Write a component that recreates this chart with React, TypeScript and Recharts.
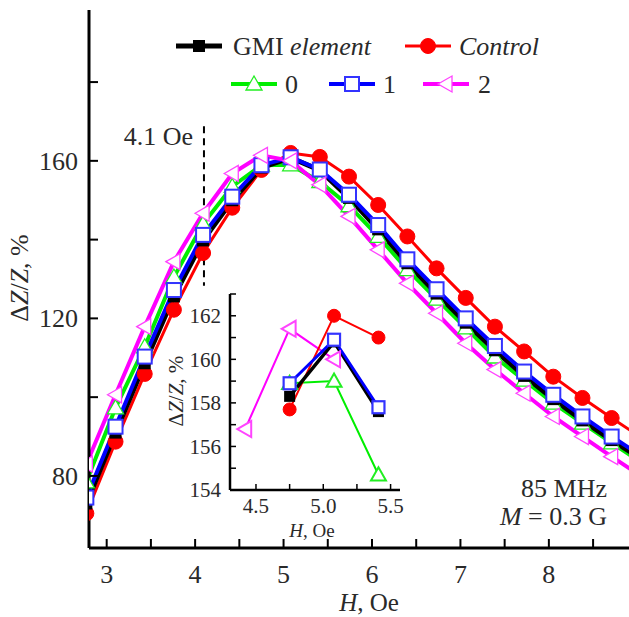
import React from 'react';
import { LineChart, Line, XAxis, YAxis, ReferenceLine, CartesianGrid } from 'recharts';

const FONT = '"Liberation Serif", "Times New Roman", serif';
const INK = '#2a2a2a';

// ---- main panel data: H (Oe) vs ΔZ/Z (%) ----
const fieldH = [2.77, 3.1, 3.43, 3.76, 4.09, 4.42, 4.75, 5.08, 5.41, 5.74, 6.07, 6.4, 6.73, 7.06, 7.39, 7.72, 8.05, 8.38, 8.71, 9.04];
const gmiElement = [73.0, 91.0, 108.6, 125.6, 139.8, 150.0, 158.3, 160.8, 157.6, 150.6, 142.6, 134.0, 126.3, 118.9, 111.9, 105.4, 99.5, 94.1, 89.1, 84.4];
const controlSample = [70.5, 88.7, 105.9, 122.2, 136.6, 148.1, 157.7, 162.0, 161.0, 156.0, 148.8, 140.8, 132.7, 125.2, 117.9, 111.6, 105.2, 99.8, 94.7, 89.8];
const layer0 = [78.5, 97.3, 112.8, 130.5, 144.0, 153.5, 158.9, 159.0, 154.7, 148.6, 140.8, 132.4, 124.9, 117.6, 110.2, 104.3, 98.5, 93.4, 88.4, 83.5];
const layer1 = [74.5, 92.5, 110.3, 127.2, 141.2, 150.9, 158.9, 160.9, 157.8, 151.4, 143.7, 135.0, 127.4, 120.0, 113.0, 106.5, 100.6, 95.1, 90.0, 85.2];
const layer2 = [83.0, 100.6, 117.9, 134.4, 146.7, 156.8, 161.4, 160.0, 153.9, 145.9, 137.4, 128.9, 121.3, 113.7, 107.0, 101.0, 95.1, 90.0, 84.9, 80.0];

// ---- inset data (zoom on the maximum) ----
const insetH = [4.42, 4.75, 5.08, 5.41];
const insetGmi = [null, 158.3, 160.8, 157.6];
const insetControl = [null, 157.7, 162.0, 161.0];
const insetL0 = [null, 158.9, 159.0, 154.7];
const insetL1 = [null, 158.9, 160.9, 157.8];
const insetL2 = [156.8, 161.4, 160.0, null];

// ---- ticks ----
const xTicks = [3, 3.5, 4, 4.5, 5, 5.5, 6, 6.5, 7, 7.5, 8, 8.5];
const xMajor = [3, 4, 5, 6, 7, 8];
const yTicks = [80, 100, 120, 140, 160, 180];
const yMajor = [80, 120, 160];
const insetXTicks = [4.5, 4.75, 5, 5.25, 5.5];
const insetXMajor = [4.5, 5, 5.5];
const insetYTicks = [154, 155, 156, 157, 158, 159, 160, 161, 162, 163];
const insetYMajor = [154, 156, 158, 160, 162];

const markerLine = 4.1;

const mainRows = fieldH.map((h, i) => ({
  h,
  gmi: gmiElement[i],
  control: controlSample[i],
  l0: layer0[i],
  l1: layer1[i],
  l2: layer2[i],
}));

const insetRows = insetH.map((h, i) => ({
  h,
  gmi: insetGmi[i],
  control: insetControl[i],
  l0: insetL0[i],
  l1: insetL1[i],
  l2: insetL2[i],
}));

type Shape = 'fsquare' | 'circle' | 'tri' | 'square' | 'ltri';

function Marker({ cx, cy, shape, r, color, sw }: { cx: number; cy: number; shape: Shape; r: number; color: string; sw: number }) {
  if (cx == null || cy == null || isNaN(cx) || isNaN(cy)) return <g />;
  switch (shape) {
    case 'circle':
      return <circle cx={cx} cy={cy} r={r} fill={color} stroke={color} strokeWidth={1} />;
    case 'fsquare':
      return <rect x={cx - r} y={cy - r} width={2 * r} height={2 * r} fill={color} />;
    case 'square':
      return <rect x={cx - r} y={cy - r} width={2 * r} height={2 * r} fill="#fff" stroke={color} strokeWidth={sw} />;
    case 'tri':
      return (
        <polygon
          points={`${cx},${cy - r} ${cx - r},${cy + r * 0.75} ${cx + r},${cy + r * 0.75}`}
          fill="#fff"
          stroke={color}
          strokeWidth={sw}
        />
      );
    case 'ltri':
    default:
      return (
        <polygon
          points={`${cx - r},${cy} ${cx + r * 0.75},${cy - r} ${cx + r * 0.75},${cy + r}`}
          fill="#fff"
          stroke={color}
          strokeWidth={sw}
        />
      );
  }
}

interface SeriesDef {
  key: string;
  color: string;
  markColor: string;
  shape: Shape;
  w: number;
  r: number;
  msw: number;
  iw: number;
  ir: number;
  imsw: number;
}

// drawing order: red, green, black, blue, magenta
const seriesDefs: SeriesDef[] = [
  { key: 'control', color: '#ff0000', markColor: '#ff0000', shape: 'circle', w: 3, r: 7.5, msw: 1, iw: 2, ir: 6.5, imsw: 1 },
  { key: 'l0', color: '#00ee00', markColor: '#22ee22', shape: 'tri', w: 4, r: 8, msw: 1.3, iw: 2, ir: 7.5, imsw: 2 },
  { key: 'gmi', color: '#000000', markColor: '#000000', shape: 'fsquare', w: 5, r: 6, msw: 1, iw: 3.5, ir: 5.5, imsw: 1 },
  { key: 'l1', color: '#0000ff', markColor: '#3333ff', shape: 'square', w: 4, r: 7, msw: 2, iw: 3, ir: 6, imsw: 2.2 },
  { key: 'l2', color: '#ff00ff', markColor: '#ff44ff', shape: 'ltri', w: 4, r: 8, msw: 1.3, iw: 2, ir: 8, imsw: 2 },
];
const insetOrder = ['l2', 'l0', 'control', 'gmi', 'l1'];

interface TickCfg {
  side: 'bottom' | 'top' | 'left' | 'right';
  majors: number[];
  len: number;
  fontSize: number;
  offset: number;
  width: number;
  fmt: (v: number) => string;
}

function makeTick(c: TickCfg) {
  return (p: any) => {
    const x = Number(p.x);
    const y = Number(p.y);
    const v = Number(p.payload && p.payload.value);
    const major = c.majors.some((m) => Math.abs(m - v) < 1e-6);
    const st = { stroke: '#000', strokeWidth: c.width };
    let ln;
    if (c.side === 'bottom') ln = <line x1={x} x2={x} y1={y} y2={y - c.len} {...st} />;
    else if (c.side === 'top') ln = <line x1={x} x2={x} y1={y} y2={y + c.len} {...st} />;
    else if (c.side === 'left') ln = <line x1={x} x2={x + c.len} y1={y} y2={y} {...st} />;
    else ln = <line x1={x} x2={x - c.len} y1={y} y2={y} {...st} />;
    let tx = null;
    if (major && c.side === 'bottom') {
      tx = (
        <text x={x} y={y + c.offset} textAnchor="middle" style={{ fontFamily: FONT }} fontSize={c.fontSize} fill={INK}>
          {c.fmt(v)}
        </text>
      );
    } else if (major && c.side === 'left') {
      tx = (
        <text x={x - c.offset} y={y + c.fontSize * 0.35} textAnchor="end" style={{ fontFamily: FONT }} fontSize={c.fontSize} fill={INK}>
          {c.fmt(v)}
        </text>
      );
    }
    return (
      <g>
        {ln}
        {tx}
      </g>
    );
  };
}

const intFmt = (v: number) => String(v);
const oneFmt = (v: number) => v.toFixed(1);

const mainBottom = makeTick({ side: 'bottom', majors: xMajor, len: 9, fontSize: 26, offset: 35, width: 2, fmt: intFmt });
const mainTop = makeTick({ side: 'top', majors: xMajor, len: 9, fontSize: 26, offset: 0, width: 2, fmt: intFmt });
const mainLeft = makeTick({ side: 'left', majors: yMajor, len: 9, fontSize: 26, offset: 11, width: 2, fmt: intFmt });
const mainRight = makeTick({ side: 'right', majors: yMajor, len: 9, fontSize: 26, offset: 0, width: 2, fmt: intFmt });

const inBottom = makeTick({ side: 'bottom', majors: insetXMajor, len: 6, fontSize: 21, offset: 23, width: 1.5, fmt: oneFmt });
const inTop = makeTick({ side: 'top', majors: insetXMajor, len: 6, fontSize: 21, offset: 0, width: 1.5, fmt: oneFmt });
const inLeft = makeTick({ side: 'left', majors: insetYMajor, len: 6, fontSize: 21, offset: 9, width: 1.5, fmt: intFmt });
const inRight = makeTick({ side: 'right', majors: insetYMajor, len: 6, fontSize: 21, offset: 0, width: 1.5, fmt: intFmt });

const mainXDomain: [number, number] = [2.8, 8.94];
const mainYDomain: [number, number] = [61.7, 198.3];
const insetXDomain: [number, number] = [4.307, 5.57];
const insetYDomain: [number, number] = [154, 163];

const axisStroke = { stroke: '#000', strokeWidth: 3 };
const insetAxisStroke = { stroke: '#000', strokeWidth: 2.5 };

function LegendSample({ x, y, def }: { x: number; y: number; def: SeriesDef }) {
  return (
    <g>
      <line x1={x - 23} x2={x + 23} y1={y} y2={y} stroke={def.color} strokeWidth={def.w} />
      <Marker cx={x} cy={y} shape={def.shape} r={def.r} color={def.markColor} sw={def.msw} />
    </g>
  );
}

const defOf = (k: string) => seriesDefs.find((d) => d.key === k) as SeriesDef;
const txtStyle = { fontFamily: FONT };

export default function App() {
  return (
    <div
      style={{
        position: 'fixed',
        left: 0,
        top: 0,
        width: 629,
        height: 617,
        overflow: 'hidden',
        background: '#fff',
        fontFamily: FONT,
      }}
    >
      <div style={{ position: 'absolute', left: 0, top: 0 }}>
        <LineChart width={640} height={617} data={mainRows} margin={{ top: 10, right: 8, bottom: 0, left: 0 }}>
          <XAxis
            xAxisId="x"
            dataKey="h"
            type="number"
            domain={mainXDomain}
            allowDataOverflow
            ticks={xTicks}
            interval={0}
            tickSize={0}
            tickMargin={0}
            height={69}
            tickLine={false}
            axisLine={axisStroke}
            tick={mainBottom}
          />
          <XAxis
            xAxisId="xt"
            orientation="top"
            dataKey="h"
            type="number"
            domain={mainXDomain}
            allowDataOverflow
            ticks={xTicks}
            interval={0}
            tickSize={0}
            tickMargin={0}
            height={0}
            tickLine={false}
            axisLine={axisStroke}
            tick={mainTop}
          />
          <YAxis
            yAxisId="y"
            type="number"
            domain={mainYDomain}
            allowDataOverflow
            ticks={yTicks}
            interval={0}
            tickSize={0}
            tickMargin={0}
            width={89}
            tickLine={false}
            axisLine={axisStroke}
            tick={mainLeft}
          />
          <YAxis
            yAxisId="yr"
            orientation="right"
            type="number"
            domain={mainYDomain}
            allowDataOverflow
            ticks={yTicks}
            interval={0}
            tickSize={0}
            tickMargin={0}
            width={0}
            tickLine={false}
            axisLine={axisStroke}
            tick={mainRight}
          />
          <ReferenceLine
            xAxisId="x"
            yAxisId="y"
            segment={[
              { x: markerLine, y: 168.8 },
              { x: markerLine, y: 128.3 },
            ]}
            stroke="#000"
            strokeWidth={2}
            strokeDasharray="7 5"
          />
          {seriesDefs.map((d) => (
            <Line
              key={d.key}
              xAxisId="x"
              yAxisId="y"
              dataKey={d.key}
              stroke={d.color}
              strokeWidth={d.w}
              isAnimationActive={false}
              activeDot={false}
              dot={(p: any) => (
                <Marker key={`${d.key}-${p.index}`} cx={p.cx} cy={p.cy} shape={d.shape} r={d.r} color={d.markColor} sw={d.msw} />
              )}
            />
          ))}
        </LineChart>
      </div>

      <svg width={629} height={617} style={{ position: 'absolute', left: 0, top: 0, pointerEvents: 'none' }}>
        {/* legend */}
        <LegendSample x={199} y={46} def={defOf('gmi')} />
        <text x={233} y={55} fontSize={26} fill={INK} style={txtStyle}>
          GMI <tspan fontStyle="italic">element</tspan>
        </text>
        <LegendSample x={428} y={46} def={defOf('control')} />
        <text x={459} y={55} fontSize={26} fill={INK} fontStyle="italic" style={txtStyle}>
          Control
        </text>
        <LegendSample x={254} y={84} def={defOf('l0')} />
        <text x={285} y={93} fontSize={26} fill={INK} style={txtStyle}>
          0
        </text>
        <LegendSample x={352} y={84} def={defOf('l1')} />
        <text x={383} y={93} fontSize={26} fill={INK} style={txtStyle}>
          1
        </text>
        <LegendSample x={446} y={84} def={defOf('l2')} />
        <text x={478} y={93} fontSize={26} fill={INK} style={txtStyle}>
          2
        </text>

        {/* annotations */}
        <text x={193} y={145} fontSize={26} fill={INK} textAnchor="end" style={txtStyle}>
          4.1 Oe
        </text>
        <text x={607} y={497} fontSize={26} fill={INK} textAnchor="end" style={txtStyle}>
          85 MHz
        </text>
        <text x={607} y={525} fontSize={26} fill={INK} textAnchor="end" style={txtStyle}>
          <tspan fontStyle="italic">M</tspan> = 0.3 G
        </text>

        {/* axis titles */}
        <text x={369} y={611} fontSize={25} fill={INK} textAnchor="middle" style={txtStyle}>
          <tspan fontStyle="italic">H</tspan>, Oe
        </text>
        <text x={28} y={278} fontSize={26} fill={INK} textAnchor="middle" transform="rotate(-90 28 278)" style={txtStyle}>
          Δ<tspan fontStyle="italic">Z</tspan>/<tspan fontStyle="italic">Z</tspan>, %
        </text>
      </svg>

      <div style={{ position: 'absolute', left: 150, top: 280 }}>
        <LineChart width={260} height={280} data={insetRows} margin={{ top: 14, right: 10, bottom: 0, left: 0 }}>
          <CartesianGrid xAxisId="ix" yAxisId="iy" horizontal={false} vertical={false} fill="#fff" />
          <XAxis
            xAxisId="ix"
            dataKey="h"
            type="number"
            domain={insetXDomain}
            allowDataOverflow
            ticks={insetXTicks}
            interval={0}
            tickSize={0}
            tickMargin={0}
            height={70}
            tickLine={false}
            axisLine={insetAxisStroke}
            tick={inBottom}
          />
          <XAxis
            xAxisId="ixt"
            orientation="top"
            dataKey="h"
            type="number"
            domain={insetXDomain}
            allowDataOverflow
            ticks={insetXTicks}
            interval={0}
            tickSize={0}
            tickMargin={0}
            height={0}
            tickLine={false}
            axisLine={insetAxisStroke}
            tick={inTop}
          />
          <YAxis
            yAxisId="iy"
            type="number"
            domain={insetYDomain}
            allowDataOverflow
            ticks={insetYTicks}
            interval={0}
            tickSize={0}
            tickMargin={0}
            width={80}
            tickLine={false}
            axisLine={insetAxisStroke}
            tick={inLeft}
          />
          <YAxis
            yAxisId="iyr"
            orientation="right"
            type="number"
            domain={insetYDomain}
            allowDataOverflow
            ticks={insetYTicks}
            interval={0}
            tickSize={0}
            tickMargin={0}
            width={0}
            tickLine={false}
            axisLine={insetAxisStroke}
            tick={inRight}
          />
          {insetOrder.map((k) => {
            const d = defOf(k);
            return (
              <Line
                key={k}
                xAxisId="ix"
                yAxisId="iy"
                dataKey={k}
                stroke={d.color}
                strokeWidth={d.iw}
                isAnimationActive={false}
                activeDot={false}
                connectNulls={false}
                dot={(p: any) => (
                  <Marker key={`i-${k}-${p.index}`} cx={p.cx} cy={p.cy} shape={d.shape} r={d.ir} color={d.markColor} sw={d.imsw} />
                )}
              />
            );
          })}
        </LineChart>
      </div>

      <svg width={629} height={617} style={{ position: 'absolute', left: 0, top: 0, pointerEvents: 'none' }}>
        <text x={312} y={537} fontSize={19} fill={INK} textAnchor="middle" style={txtStyle}>
          <tspan fontStyle="italic">H</tspan>, Oe
        </text>
        <text x={183} y={391} fontSize={21} fill={INK} textAnchor="middle" transform="rotate(-90 183 391)" style={txtStyle}>
          Δ<tspan fontStyle="italic">Z</tspan>/<tspan fontStyle="italic">Z</tspan>, %
        </text>
      </svg>
    </div>
  );
}
